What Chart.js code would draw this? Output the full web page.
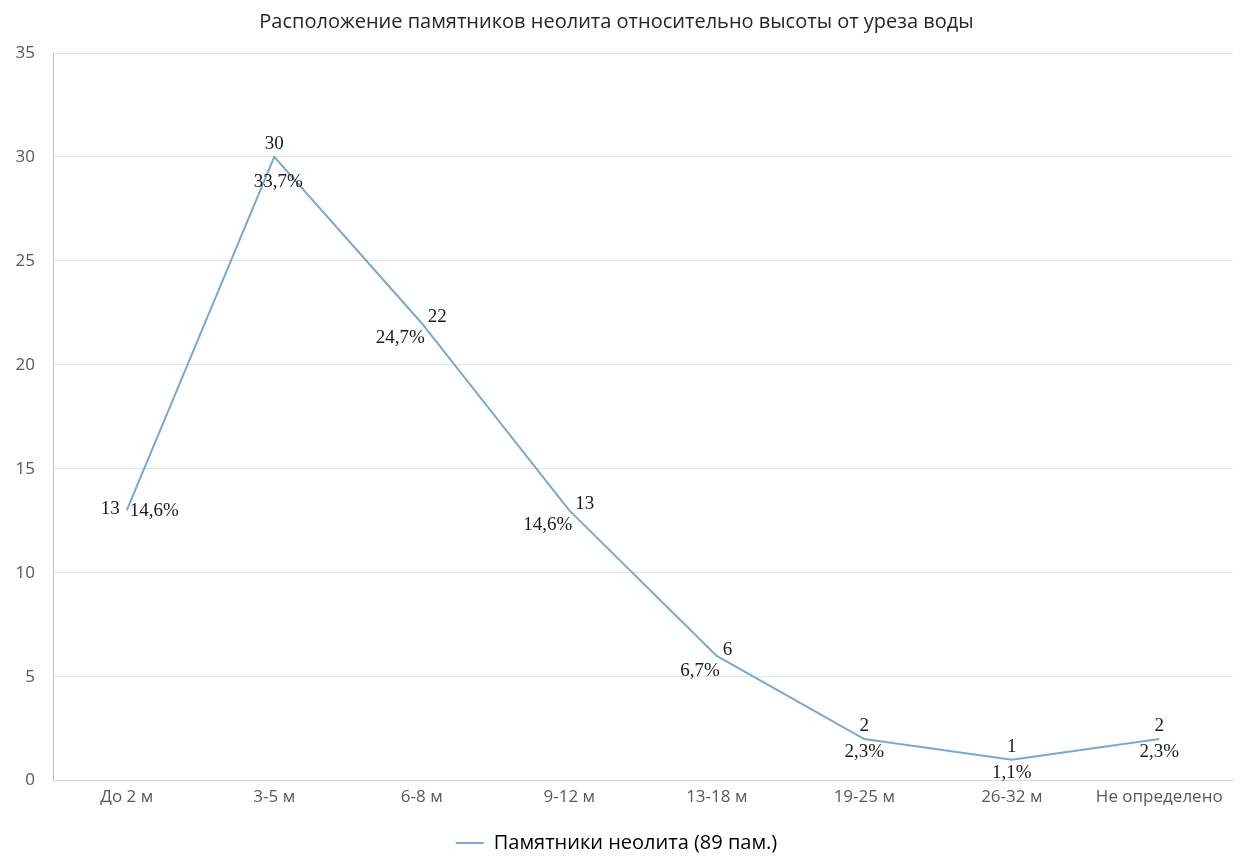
<!DOCTYPE html>
<html>
<head>
<meta charset="utf-8">
<script src="https://cdn.jsdelivr.net/npm/chart.js@4.4.0/dist/chart.umd.min.js"></script>
<style>
  body { margin: 0; background: #fff; }
  #wrap { width: 1253px; height: 863px; }
</style>
</head>
<body>
<div id="wrap"><canvas id="heightChart"></canvas></div>
<script>
// Neolithic sites by height above water line

const categories = ['До 2 м', '3-5 м', '6-8 м', '9-12 м', '13-18 м', '19-25 м', '26-32 м', 'Не определено'];
const siteCounts = [13, 30, 22, 13, 6, 2, 1, 2];
const sharePercent = ['14,6%', '33,7%', '24,7%', '14,6%', '6,7%', '2,3%', '1,1%', '2,3%'];
const yTicks = [0, 5, 10, 15, 20, 25, 30, 35];

// where the two labels sit around each point: 'split' = count left / share right,
// 'over' = count above / share below, 'peak' = like over but share further down,
// 'diag' = count right / share lower-left
const labelPlacement = ['split', 'peak', 'diag', 'diag', 'diag', 'over', 'over', 'over'];

const pointLabels = {
    id: 'pointLabels',
    afterDatasetsDraw(chart) {
        const ctx = chart.ctx;
        const meta = chart.getDatasetMeta(0);
        ctx.save();
        ctx.font = '19px "Liberation Serif", "DejaVu Serif", serif';
        ctx.fillStyle = '#1a1a1a';
        meta.data.forEach(function(pt, i) {
            const x = pt.x, y = pt.y;
            const count = String(siteCounts[i]);
            const share = sharePercent[i];
            const mode = labelPlacement[i];
            ctx.textBaseline = 'middle';
            if (mode === 'split') {
                ctx.textAlign = 'right';
                ctx.fillText(count, x - 7, y - 1);
                ctx.textAlign = 'left';
                ctx.fillText(share, x + 3, y + 1);
            } else if (mode === 'over' || mode === 'peak') {
                ctx.textAlign = 'center';
                ctx.fillText(count, x, y - 13);
                ctx.fillText(share, x + (mode === 'peak' ? 4 : 0), y + (mode === 'peak' ? 25 : 13));
            } else {
                ctx.textAlign = 'left';
                ctx.fillText(count, x + 6, y - 6);
                ctx.textAlign = 'right';
                ctx.fillText(share, x + 3, y + 15);
            }
        });
        ctx.restore();
    }
};

function createHeightChart() {
    const ctx = document.getElementById('heightChart').getContext('2d');

    new Chart(ctx, {
        type: 'line',
        data: {
            labels: categories,
            datasets: [{
                label: 'Памятники неолита (89 пам.)',
                data: siteCounts,
                borderColor: '#7aa9cf',
                backgroundColor: '#7aa9cf',
                borderWidth: 2,
                pointRadius: 0,
                fill: false,
                tension: 0
            }]
        },
        options: {
            responsive: true,
            maintainAspectRatio: false,
            animation: false,
            layout: { padding: { top: 10, right: 20, bottom: 0, left: 0 } },
            plugins: {
                title: {
                    display: true,
                    text: 'Расположение памятников неолита относительно высоты от уреза воды',
                    color: '#262626',
                    font: { family: '"Open Sans", "Noto Sans", sans-serif', size: 20, weight: 'normal' },
                    padding: { top: 0, bottom: 19 }
                },
                legend: {
                    display: true,
                    position: 'bottom',
                    labels: {
                        color: '#1a1a1a',
                        font: { family: '"Open Sans", "Noto Sans", sans-serif', size: 20 },
                        boxWidth: 28,
                        boxHeight: 0,
                        padding: 10,
                        generateLabels: function(chart) {
                            const ds = chart.data.datasets[0];
                            return [{
                                text: ds.label,
                                strokeStyle: ds.borderColor,
                                fillStyle: ds.borderColor,
                                lineWidth: 2,
                                datasetIndex: 0
                            }];
                        }
                    }
                },
                tooltip: { enabled: false }
            },
            scales: {
                x: {
                    offset: true,
                    afterFit: function(axis) { axis.height += 10; },
                    grid: { display: false, drawTicks: false },
                    border: { color: '#d9d9d9', width: 1 },
                    ticks: {
                        color: '#595959',
                        padding: 6,
                        maxRotation: 0,
                        font: { family: '"Open Sans", "Noto Sans", sans-serif', size: 17 }
                    }
                },
                y: {
                    min: 0,
                    max: 35,
                    afterBuildTicks: function(axis) {
                        axis.ticks = yTicks.map(function(v) { return { value: v }; });
                    },
                    afterFit: function(axis) { axis.width = 53; },
                    grid: { color: '#e3e3e3', drawTicks: false },
                    border: { color: '#bfbfbf', width: 1 },
                    ticks: {
                        color: '#595959',
                        padding: 18,
                        font: { family: '"Open Sans", "Noto Sans", sans-serif', size: 17 }
                    }
                }
            }
        },
        plugins: [pointLabels]
    });
}

createHeightChart();
</script>
</body>
</html>
